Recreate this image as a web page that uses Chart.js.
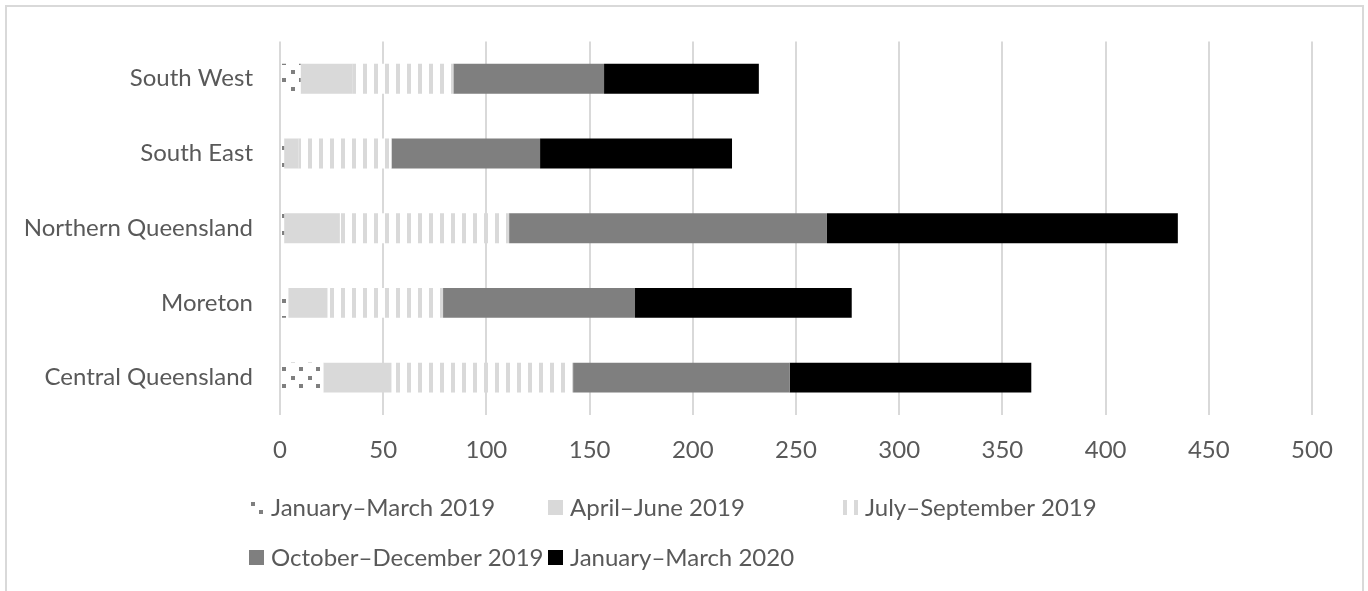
<!DOCTYPE html>
<html>
<head>
<meta charset="utf-8">
<script src="https://cdn.jsdelivr.net/npm/chart.js@4.4.1/dist/chart.umd.min.js"></script>
<style>
html, body { margin: 0; padding: 0; background: #fff; }
#wrap { width: 1368px; height: 591px; }
</style>
</head>
<body>
<div id="wrap"><canvas id="myChart" width="1368" height="591"></canvas></div>
<script>
// regions, top to bottom
const regions = ['South West', 'South East', 'Northern Queensland', 'Moreton', 'Central Queensland'];
const seriesNames = ['January–March 2019', 'April–June 2019', 'July–September 2019', 'October–December 2019', 'January–March 2020'];

const janMar2019 = [10, 2, 2, 4, 21];
const aprJun2019 = [25, 7, 27, 19, 33];
const julSep2019 = [49, 45, 82, 56, 88];
const octDec2019 = [73, 72, 154, 93, 105];
const janMar2020 = [75, 93, 170, 105, 117];

const xTicks = [0, 50, 100, 150, 200, 250, 300, 350, 400, 450, 500];

const textColor = '#595959';
const fontFamily = 'Lato, "Liberation Sans", sans-serif';
const fontSize = 24;

// pattern fills like the excel ones
function dotPattern() {
    const c = document.createElement('canvas');
    c.width = 17; c.height = 17;
    const g = c.getContext('2d');
    g.fillStyle = '#ffffff';
    g.fillRect(0, 0, 17, 17);
    g.fillStyle = '#7f7f7f';
    g.fillRect(2, 2, 4, 4);
    g.fillRect(10, 10, 4, 4);
    return g.createPattern(c, 'repeat');
}

function stripePattern() {
    const c = document.createElement('canvas');
    c.width = 11; c.height = 4;
    const g = c.getContext('2d');
    g.fillStyle = '#ffffff';
    g.fillRect(0, 0, 11, 4);
    g.fillStyle = '#d9d9d9';
    g.fillRect(0, 0, 4, 4);
    return g.createPattern(c, 'repeat');
}

const fills = [dotPattern(), '#d9d9d9', stripePattern(), '#7f7f7f', '#000000'];
const values = [janMar2019, aprJun2019, julSep2019, octDec2019, janMar2020];

const datasets = values.map((v, i) => ({
    label: seriesNames[i],
    data: v,
    backgroundColor: fills[i],
    borderWidth: 0,
    barPercentage: 0.4,
    categoryPercentage: 1
}));

// legend in two rows, columns like the original
const legendCols = [249, 548, 843];
const legendRows = [507, 557];

const customLegend = {
    id: 'customLegend',
    afterDraw(chart) {
        const ctx = chart.ctx;
        ctx.save();
        ctx.font = fontSize + 'px ' + fontFamily;
        ctx.textBaseline = 'middle';
        ctx.textAlign = 'left';
        chart.data.datasets.forEach((ds, i) => {
            const x = legendCols[i % 3];
            const y = legendRows[Math.floor(i / 3)];
            // shift so the pattern shows a few marks inside the little box
            ctx.save();
            ctx.translate(x, y - 7);
            ctx.fillStyle = ds.backgroundColor;
            ctx.fillRect(0, 0, 15, 15);
            ctx.restore();
            ctx.fillStyle = textColor;
            ctx.fillText(ds.label, x + 22, y + 1);
        });
        ctx.restore();
    }
};

const frame = {
    id: 'frame',
    beforeDraw(chart) {
        const ctx = chart.ctx;
        ctx.save();
        ctx.fillStyle = '#fff';
        ctx.fillRect(0, 0, chart.width, chart.height);
        ctx.strokeStyle = '#d9d9d9';
        ctx.lineWidth = 2;
        ctx.strokeRect(6, 6, 1357, 620);
        ctx.restore();
    }
};

const ctx = document.getElementById('myChart');
new Chart(ctx, {
    type: 'bar',
    data: { labels: regions, datasets: datasets },
    plugins: [frame, customLegend],
    options: {
        indexAxis: 'y',
        responsive: false,
        animation: false,
        devicePixelRatio: 1,
        layout: { padding: { top: 38, right: 56, left: 0, bottom: 0 } },
        plugins: { legend: { display: false }, tooltip: { enabled: false } },
        scales: {
            x: {
                stacked: true,
                min: 0,
                max: 500,
                afterBuildTicks: (scale) => { scale.ticks = xTicks.map(v => ({ value: v })); },
                afterFit: (scale) => { scale.height = 176; },
                grid: { color: '#d9d9d9', lineWidth: 2, drawTicks: false },
                border: { display: false },
                ticks: { color: textColor, font: { family: fontFamily, size: fontSize }, padding: 21 }
            },
            y: {
                stacked: true,
                afterFit: (scale) => { scale.width = 280; },
                grid: { display: false, drawTicks: false },
                border: { display: false },
                ticks: { color: textColor, font: { family: fontFamily, size: fontSize }, padding: 27 }
            }
        }
    }
});
</script>
</body>
</html>
